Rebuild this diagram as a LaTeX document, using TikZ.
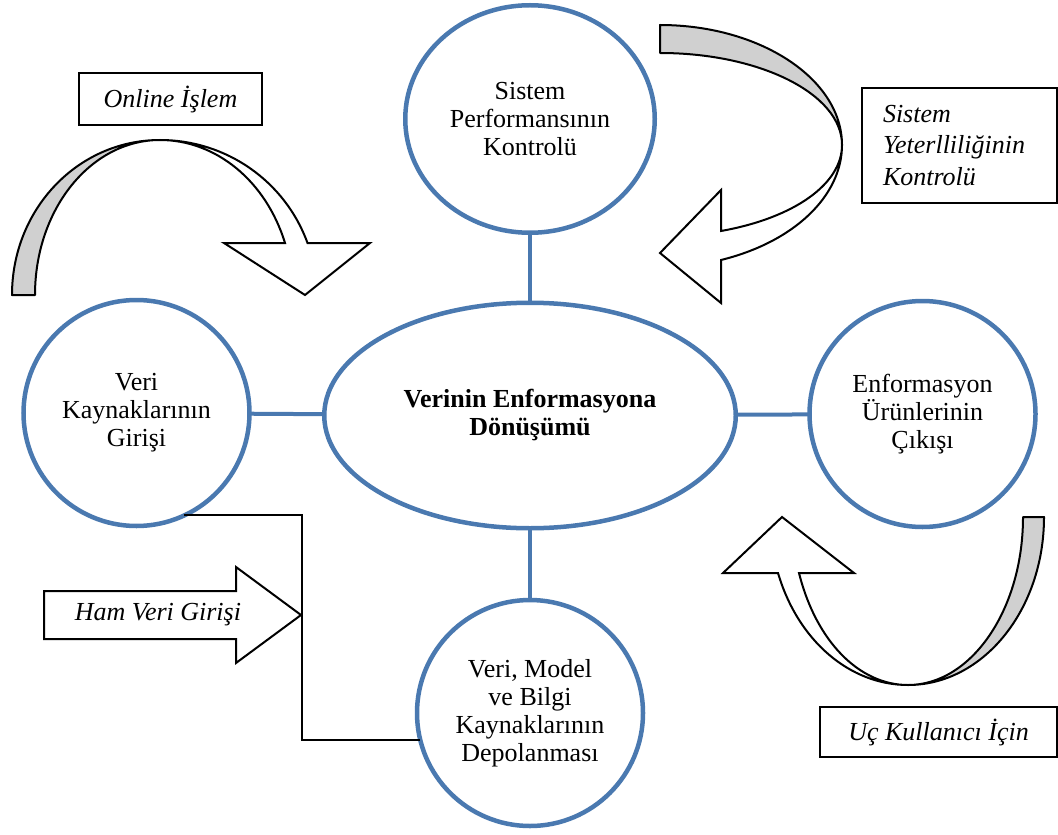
\documentclass[tikz,border=0pt]{standalone}
\usepackage{fontspec}
\setmainfont{Liberation Serif}
\usetikzlibrary{shapes.geometric}
\definecolor{ringblue}{RGB}{74,121,176}
\definecolor{backgray}{RGB}{208,208,208}
\begin{document}
\begin{tikzpicture}[x=0.5pt,y=-0.5pt,
  txt/.style={font=\fontsize{13}{14}\selectfont},
  ring/.style={circle, draw=ringblue, line width=2.25pt, fill=white,
    inner sep=0pt, outer sep=0pt, align=center, minimum size=113pt, txt},
  hub/.style={ellipse, draw=ringblue, line width=2.25pt, fill=white,
    inner sep=0pt, outer sep=0pt, align=center, txt},
  link/.style={draw=ringblue, line width=2pt},
  wire/.style={draw=black, line width=1pt},
  tag/.style={rectangle, draw=black, line width=1pt, fill=white,
    inner sep=0pt, outer sep=0pt, txt},
  band/.style={draw=black, line width=1pt, fill=backgray, line join=round},
  face/.style={draw=black, line width=1pt, fill=white, line join=miter}]
\useasboundingbox (0,0) rectangle (1058,834);

% processing stages
\node[hub, minimum width=124.75pt, minimum height=113.75pt] (top) at (530,119)
  {Sistem\\Performansının\\Kontrolü};
\node[ring] (left) at (136.5,413) {Veri\\Kaynaklarının\\Girişi};
\node[ring] (right) at (922.5,414) {Enformasyon\\Ürünlerinin\\Çıkışı};
\node[ring] (bot) at (530,713) {Veri, Model\\ve Bilgi\\Kaynaklarının\\Depolanması};
\node[hub, minimum width=205.75pt, minimum height=112.75pt] (mid) at (530,415.5)
  {\bfseries Verinin Enformasyona\\\bfseries Dönüşümü};

% spokes around the hub
\draw[link] (top) -- (mid);
\draw[link] (mid) -- (bot);
\draw[link] (left) -- (mid);
\draw[link] (mid) -- (right);

% raw data path from input to storage
\coordinate (jn) at (302,615);
\draw[wire] (left.-65) -| (jn) |- (bot.194);

% raw data entry arrow
\draw[face] (44,591) -- (236,591) -- (236,567) -- (301,615) -- (236,663)
  -- (236,639) -- (44,639) -- cycle;
\node[txt, font=\fontsize{13}{14}\selectfont\itshape] (ham) at (158,615) {Ham Veri Girişi};

% online processing: curved arrow, upper left
\draw[band] (12,295) .. controls (12,209) and (78,140) .. (160,140)
  .. controls (91,140) and (35,209) .. (35,295) -- cycle;
\draw[face] (160,140) .. controls (226,140) and (285,181) .. (307.5,243)
  -- (370,243) -- (305,295) -- (224,243) -- (285,243)
  .. controls (266,181) and (216,140) .. (160,140) -- cycle;
\node[tag, minimum width=91.5pt, minimum height=26pt,
  font=\fontsize{13}{14}\selectfont\itshape] (online) at (170.5,99) {Online İşlem};

% adequacy check: curved arrow, upper right
\draw[band] (660,25) .. controls (760,25) and (842,79) .. (842,145)
  .. controls (842,94) and (760,53) .. (660,53) -- cycle;
\draw[face] (842,145) .. controls (842,196) and (794,242) .. (721,260)
  -- (721,303) -- (660,253) -- (721,190) -- (721,231)
  .. controls (794,218) and (842,184) .. (842,145) -- cycle;
\node[tag, minimum width=97.5pt, minimum height=57.5pt, text width=76.5pt,
  inner xsep=10.5pt, align=left,
  font=\fontsize{13}{15.75}\selectfont\itshape] (yeter) at (959.5,145.5)
  {Sistem\\Yeterlliliğinin\\Kontrolü};

% end user: curved arrow, lower right
\draw[band] (1044,517) .. controls (1044,610) and (983,685) .. (908,685)
  .. controls (971,685) and (1023,610) .. (1023,517) -- cycle;
\draw[face] (908,685) .. controls (850,685) and (798,641) .. (778,573)
  -- (723,573) -- (782,517) -- (854,573) -- (799,573)
  .. controls (816,641) and (859,685) .. (908,685) -- cycle;
\node[tag, minimum width=118.5pt, minimum height=25pt,
  font=\fontsize{13}{14}\selectfont\itshape] (user) at (938.5,732) {Uç Kullanıcı İçin};
\end{tikzpicture}
\end{document}
